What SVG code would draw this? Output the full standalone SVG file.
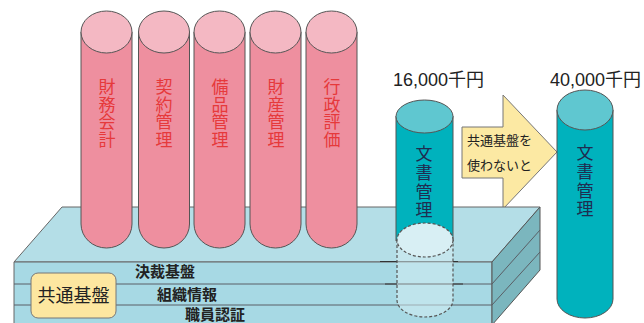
<svg xmlns="http://www.w3.org/2000/svg" width="644" height="323" viewBox="0 0 644 323">
<style>
.ln{stroke:#5a5f66;stroke-width:1;}
.pink{fill:#ee8f9f;stroke:#555;stroke-width:1;}
.pinktop{fill:#f4b8c3;stroke:#555;stroke-width:1;}
.teal{fill:#00b2bd;stroke:#555;stroke-width:1;}
.tealtop{fill:#5fc7d0;stroke:#555;stroke-width:1;}
.vred{font-family:"Noto Sans CJK JP","Noto Sans",sans-serif;font-size:17px;fill:#e6393b;writing-mode:vertical-rl;letter-spacing:0.6px;}
.vnav{font-family:"Noto Sans CJK JP","Noto Sans",sans-serif;font-size:17px;fill:#1f2d50;writing-mode:vertical-rl;letter-spacing:1.8px;}
.lay{font-family:"Noto Sans CJK JP","Noto Sans",sans-serif;font-size:15px;font-weight:bold;fill:#222;}
.num{font-family:"Liberation Sans","Noto Sans CJK JP",sans-serif;font-size:18px;fill:#222;}
.arr{font-family:"Noto Sans CJK JP","Noto Sans",sans-serif;font-size:13px;fill:#222;}
.dash{stroke:#555;stroke-width:1.2;stroke-dasharray:3 2;}
</style>
<rect width="644" height="323" fill="#ffffff"/>
<g id="arrow">
<polygon points="462,127 503,127 503,95 557,152 503,209 503,178 462,178" fill="#fce9a3" stroke="#777" stroke-width="1"/>
<text class="arr" x="467" y="145">共通基盤を</text>
<text class="arr" x="467" y="170">使わないと</text>
</g>
<g id="platform">
<polygon points="62,207 540,207 492,262 14,262" fill="#b4dee7" stroke="#666" stroke-width="1"/>
<polygon points="14,262 492,262 492,330 14,330" fill="#a7d9e4" stroke="#666" stroke-width="1"/>
<polygon points="492,262 540,207 540,270 492,325" fill="#7bb6be" stroke="#555" stroke-width="1"/>
<line class="ln" x1="14" y1="284" x2="492" y2="284"/>
<line class="ln" x1="14" y1="305" x2="492" y2="305"/>
<line class="ln" x1="492" y1="284" x2="540" y2="230"/>
<line class="ln" x1="492" y1="305" x2="540" y2="252"/>
<line x1="380" y1="261.5" x2="458" y2="261.5" stroke="#333" stroke-width="1.2"/>
<line x1="385" y1="284" x2="463" y2="284" stroke="#333" stroke-width="1.2"/>
<text class="lay" x="135" y="277">決裁基盤</text>
<text class="lay" x="157" y="300">組織情報</text>
<text class="lay" x="185" y="320">職員認証</text>
</g>
<g id="kyotsu">
<rect x="31" y="273" width="85" height="45" rx="7" fill="#fde7a0" stroke="#777" stroke-width="1"/>
<text x="73.5" y="302" text-anchor="middle" font-family="'Noto Sans CJK JP','Noto Sans',sans-serif" font-size="18" fill="#222">共通基盤</text>
</g>
<g id="zaimu">
<path class="pink" d="M81,32 L81,224 A25.5,24 0 0 0 132,224 L132,32 Z"/>
<ellipse class="pinktop" cx="106.5" cy="32" rx="25.5" ry="21"/>
<text class="vred" x="107" y="78">財務会計</text>
</g>
<g id="keiyaku">
<path class="pink" d="M138.5,32 L138.5,224 A25.5,24 0 0 0 189.5,224 L189.5,32 Z"/>
<ellipse class="pinktop" cx="164" cy="32" rx="25.5" ry="21"/>
<text class="vred" x="164" y="78">契約管理</text>
</g>
<g id="bihin">
<path class="pink" d="M194,32 L194,224 A25.5,24 0 0 0 245,224 L245,32 Z"/>
<ellipse class="pinktop" cx="219.5" cy="32" rx="25.5" ry="21"/>
<text class="vred" x="220" y="78">備品管理</text>
</g>
<g id="zaisan">
<path class="pink" d="M250,32 L250,224 A25.5,24 0 0 0 301,224 L301,32 Z"/>
<ellipse class="pinktop" cx="275.5" cy="32" rx="25.5" ry="21"/>
<text class="vred" x="276" y="78">財産管理</text>
</g>
<g id="gyosei">
<path class="pink" d="M306,32 L306,224 A25.5,24 0 0 0 357,224 L357,32 Z"/>
<ellipse class="pinktop" cx="331.5" cy="32" rx="25.5" ry="21"/>
<text class="vred" x="332" y="78">行政評価</text>
</g>
<g id="bunsho-small">
<rect class="teal" x="396" y="116.5" width="57" height="124"/>
<ellipse class="tealtop" cx="424.5" cy="116.5" rx="28.5" ry="16.5"/>
<text class="vnav" x="424" y="145">文書管理</text>
<path class="dash" d="M397,240 L397,300 A28,17 0 0 0 453,300 L453,240" fill="#d4edf3" fill-opacity="0.55"/>
<ellipse class="dash" cx="425" cy="240" rx="28" ry="17" fill="#d8eff4"/>
<text class="num" x="393" y="86">16,000千円</text>
</g>
<g id="bunsho-large">
<path class="teal" d="M557,110 L557,299 A28,19 0 0 0 613,299 L613,110 Z"/>
<ellipse class="tealtop" cx="585" cy="110" rx="28" ry="20"/>
<text class="vnav" x="585" y="144">文書管理</text>
<text class="num" x="550" y="86">40,000千円</text>
</g>
<g id="connectors"/>
</svg>
